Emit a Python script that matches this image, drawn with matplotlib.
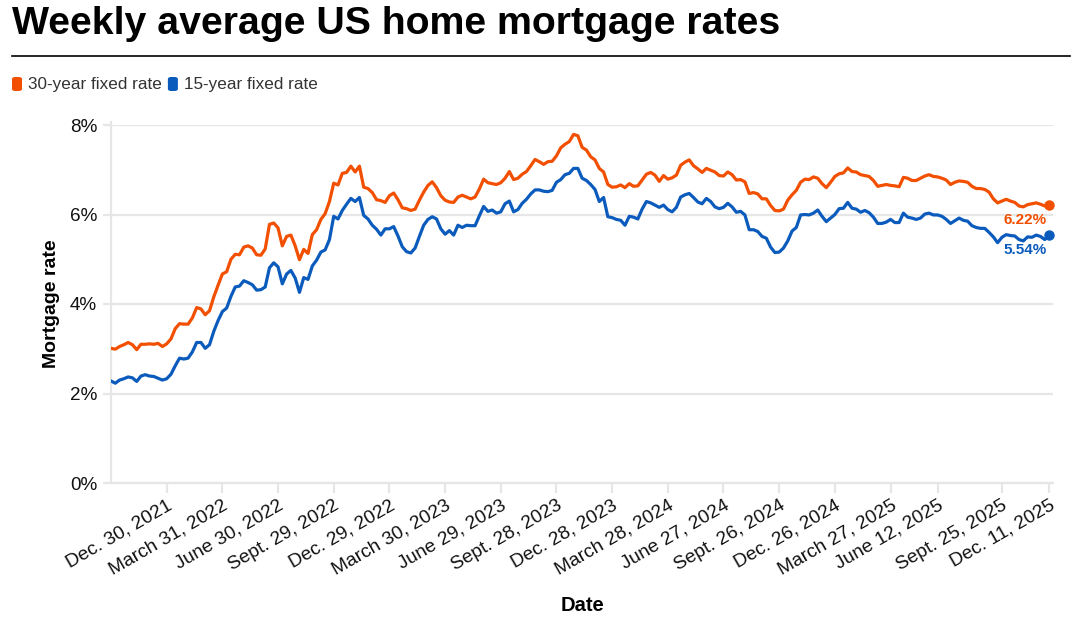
import matplotlib
matplotlib.use("Agg")
import matplotlib.pyplot as plt
import matplotlib.dates as mdates
from matplotlib.patches import FancyBboxPatch
import pandas as pd

# ---------------- data ----------------
start_date = "2021-09-30"
end_date = "2025-12-11"

rate30_2021 = [3.01, 2.99, 3.05, 3.09, 3.14, 3.09, 2.98, 3.10, 3.10, 3.11, 3.10, 3.12, 3.05, 3.11]
rate15_2021 = [2.28, 2.23, 2.30, 2.33, 2.37, 2.35, 2.27, 2.39, 2.42, 2.39, 2.38, 2.34, 2.30, 2.33]

rate30_2022 = [3.22, 3.45, 3.56, 3.55, 3.55, 3.69, 3.92, 3.89, 3.76, 3.85, 4.16, 4.42, 4.67,
               4.72, 5.00, 5.11, 5.10, 5.27, 5.30, 5.25, 5.10, 5.09, 5.23, 5.78, 5.81, 5.70,
               5.30, 5.51, 5.54, 5.30, 4.99, 5.22, 5.13, 5.55, 5.66, 5.89, 6.02, 6.29, 6.70,
               6.66, 6.92, 6.94, 7.08, 6.95, 7.08, 6.61, 6.58, 6.49, 6.33, 6.31, 6.27, 6.42]
rate15_2022 = [2.43, 2.62, 2.79, 2.77, 2.79, 2.93, 3.14, 3.14, 3.01, 3.09, 3.39, 3.63, 3.83,
               3.91, 4.17, 4.38, 4.40, 4.52, 4.48, 4.43, 4.31, 4.32, 4.38, 4.81, 4.92, 4.83,
               4.45, 4.67, 4.75, 4.58, 4.26, 4.59, 4.55, 4.85, 4.98, 5.16, 5.21, 5.44, 5.96,
               5.90, 6.09, 6.23, 6.36, 6.29, 6.38, 5.98, 5.90, 5.76, 5.67, 5.54, 5.68, 5.68]

rate30_2023 = [6.48, 6.33, 6.15, 6.13, 6.09, 6.12, 6.32, 6.50, 6.65, 6.73, 6.60, 6.42, 6.32,
               6.28, 6.27, 6.39, 6.43, 6.39, 6.35, 6.39, 6.57, 6.79, 6.71, 6.69, 6.67, 6.71,
               6.81, 6.96, 6.78, 6.81, 6.90, 6.96, 7.09, 7.23, 7.18, 7.12, 7.18, 7.19, 7.31,
               7.49, 7.57, 7.63, 7.79, 7.76, 7.50, 7.44, 7.29, 7.22, 7.03, 6.95, 6.67, 6.61]
rate15_2023 = [5.73, 5.52, 5.28, 5.17, 5.14, 5.25, 5.51, 5.76, 5.89, 5.95, 5.90, 5.68, 5.56,
               5.64, 5.54, 5.76, 5.71, 5.76, 5.75, 5.75, 5.97, 6.18, 6.07, 6.10, 6.03, 6.06,
               6.24, 6.30, 6.06, 6.11, 6.25, 6.34, 6.46, 6.55, 6.55, 6.52, 6.51, 6.54, 6.72,
               6.78, 6.89, 6.92, 7.03, 7.03, 6.81, 6.76, 6.67, 6.56, 6.29, 6.38, 5.95, 5.93]

rate30_2024 = [6.62, 6.66, 6.60, 6.69, 6.63, 6.64, 6.77, 6.90, 6.94, 6.88, 6.74, 6.87, 6.79,
               6.82, 6.88, 7.10, 7.17, 7.22, 7.09, 7.02, 6.94, 7.03, 6.99, 6.95, 6.87, 6.86,
               6.95, 6.89, 6.77, 6.78, 6.73, 6.47, 6.49, 6.46, 6.35, 6.35, 6.20, 6.09, 6.08,
               6.12, 6.32, 6.44, 6.54, 6.72, 6.79, 6.78, 6.84, 6.81, 6.69, 6.60, 6.72, 6.85]
rate15_2024 = [5.89, 5.87, 5.76, 5.96, 5.94, 5.90, 6.12, 6.29, 6.26, 6.21, 6.16, 6.21, 6.11,
               6.06, 6.16, 6.39, 6.44, 6.47, 6.38, 6.28, 6.24, 6.36, 6.29, 6.17, 6.13, 6.16,
               6.25, 6.17, 6.05, 6.07, 5.99, 5.66, 5.66, 5.62, 5.51, 5.47, 5.27, 5.15, 5.16,
               5.25, 5.41, 5.63, 5.71, 5.99, 6.00, 5.99, 6.03, 6.10, 5.96, 5.84, 5.92, 6.00]

rate30_2025 = [6.91, 6.93, 7.04, 6.96, 6.95, 6.89, 6.87, 6.85, 6.76, 6.63, 6.65, 6.67, 6.65,
               6.64, 6.62, 6.83, 6.81, 6.76, 6.76, 6.81, 6.86, 6.89, 6.85, 6.84, 6.81, 6.77,
               6.67, 6.72, 6.75, 6.74, 6.72, 6.63, 6.58, 6.58, 6.56, 6.50, 6.35, 6.26, 6.30,
               6.34, 6.30, 6.27, 6.19, 6.17, 6.22, 6.24, 6.26, 6.23, 6.19, 6.22]
rate15_2025 = [6.13, 6.14, 6.27, 6.14, 6.12, 6.05, 6.09, 6.04, 5.94, 5.80, 5.80, 5.83, 5.89,
               5.82, 5.82, 6.03, 5.94, 5.92, 5.89, 5.92, 6.01, 6.03, 5.99, 5.99, 5.96, 5.89,
               5.80, 5.86, 5.92, 5.87, 5.85, 5.75, 5.71, 5.69, 5.69, 5.60, 5.50, 5.37, 5.49,
               5.55, 5.53, 5.52, 5.44, 5.41, 5.50, 5.49, 5.54, 5.51, 5.44, 5.54]

tick_dates = ["2021-12-30", "2022-03-31", "2022-06-30", "2022-09-29", "2022-12-29",
              "2023-03-30", "2023-06-29", "2023-09-28", "2023-12-28", "2024-03-28",
              "2024-06-27", "2024-09-26", "2024-12-26", "2025-03-27", "2025-06-12",
              "2025-09-25", "2025-12-11"]
tick_labels = ["Dec. 30, 2021", "March 31, 2022", "June 30, 2022", "Sept. 29, 2022",
               "Dec. 29, 2022", "March 30, 2023", "June 29, 2023", "Sept. 28, 2023",
               "Dec. 28, 2023", "March 28, 2024", "June 27, 2024", "Sept. 26, 2024",
               "Dec. 26, 2024", "March 27, 2025", "June 12, 2025", "Sept. 25, 2025",
               "Dec. 11, 2025"]
y_ticks = [0, 2, 4, 6, 8]

series_names = ["30-year fixed rate", "15-year fixed rate"]
# --------------------------------------

rate30 = rate30_2021 + rate30_2022 + rate30_2023 + rate30_2024 + rate30_2025
rate15 = rate15_2021 + rate15_2022 + rate15_2023 + rate15_2024 + rate15_2025
dates = pd.date_range(start_date, end_date, freq="7D")

ORANGE = "#f24f00"
BLUE = "#0b5bbd"
GRID = "#e6e6e6"

plt.rcParams["font.family"] = ["Liberation Sans", "DejaVu Sans"]

W, H = 1079, 630
fig = plt.figure(figsize=(W / 100, H / 100), dpi=100)

x0, x1 = 111, 1053
y_top, y_bot = 125, 483
ax = fig.add_axes([x0 / W, 1 - y_bot / H, (x1 - x0) / W, (y_bot - y_top) / H])

ax.plot(dates, rate30, color=ORANGE, lw=2.3, solid_joinstyle="round", zorder=3)
ax.plot(dates, rate15, color=BLUE, lw=2.3, solid_joinstyle="round", zorder=3)
ax.plot(dates[-1], rate30[-1], "o", color=ORANGE, ms=6.5, zorder=4, clip_on=False)
ax.plot(dates[-1], rate15[-1], "o", color=BLUE, ms=6.5, zorder=4, clip_on=False)

ax.set_ylim(0, 8)
xmin = mdates.date2num(dates[0])
xmax = mdates.date2num(dates[-1])
ax.set_xlim(xmin, xmax + 6.5)

ax.set_yticks(y_ticks)
ax.set_yticklabels([f"{v}%" for v in y_ticks], fontsize=13.6, color="#111111")
ax.yaxis.grid(True, color=GRID, lw=1.6)
ax.set_axisbelow(True)

ax.set_xticks(pd.to_datetime(tick_dates))
ax.set_xticklabels(tick_labels, rotation=30, ha="right", rotation_mode="anchor",
                   fontsize=13.8, color="#111111")

for s in ["top", "right"]:
    ax.spines[s].set_visible(False)
ax.spines["left"].set_color(GRID)
ax.spines["left"].set_linewidth(1.6)
ax.spines["bottom"].set_color(GRID)
ax.spines["bottom"].set_linewidth(1.6)
ax.spines["left"].set_bounds(0, 8.07)
ax.tick_params(axis="y", length=6, width=1.6, color=GRID, pad=4)
ax.tick_params(axis="x", length=7, width=1.6, color=GRID, pad=3)

ax.set_ylabel("Mortgage rate", fontsize=14, fontweight="bold", labelpad=7)
ax.set_xlabel("Date", fontsize=14.5, fontweight="bold", labelpad=13)

# end labels
ax.annotate(f"{rate30[-1]:.2f}%", (dates[-1], rate30[-1]), xytext=(-2, -15),
            textcoords="offset pixels", ha="right", va="center",
            fontsize=11, fontweight="bold", color=ORANGE)
ax.annotate(f"{rate15[-1]:.2f}%", (dates[-1], rate15[-1]), xytext=(-2, -15),
            textcoords="offset pixels", ha="right", va="center",
            fontsize=11, fontweight="bold", color=BLUE)

# title & rule
fig.text(12 / W, 1 - 24 / H, "Weekly average US home mortgage rates",
         fontsize=28.3, fontweight="bold", va="center", ha="left", color="black")
fig.add_artist(plt.Line2D([12 / W, 1070 / W], [1 - 55.5 / H, 1 - 55.5 / H],
                          color="black", lw=1.2, transform=fig.transFigure))

# legend
fig.canvas.draw()
renderer = fig.canvas.get_renderer()
lx = 12
ly = 84
for name, col in zip(series_names, [ORANGE, BLUE]):
    patch = FancyBboxPatch((lx / W, 1 - (ly + 7) / H), 10 / W, 14 / H,
                           boxstyle="round,pad=0,rounding_size=0.003",
                           transform=fig.transFigure, facecolor=col, edgecolor="none")
    fig.add_artist(patch)
    t = fig.text((lx + 16) / W, 1 - ly / H, name, fontsize=12.3, color="#333333",
                 va="center", ha="left")
    bb = t.get_window_extent(renderer)
    lx = bb.x1 + 6

fig.savefig("out.png", dpi=100)
